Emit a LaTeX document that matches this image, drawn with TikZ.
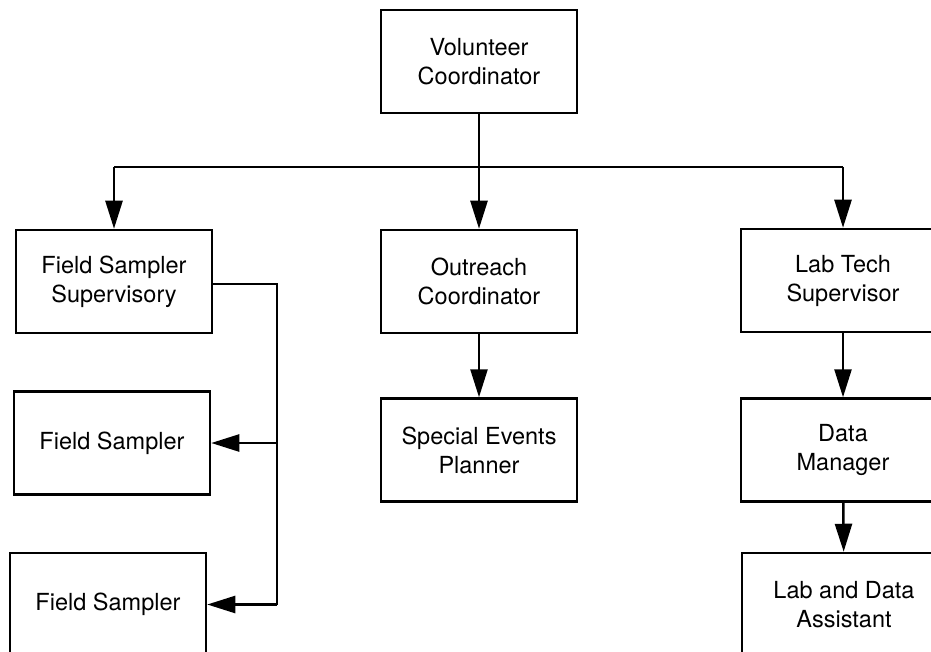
\documentclass[tikz,border=0pt]{standalone}
\usepackage{fontspec}
\setmainfont{TeX Gyre Heros}
\usetikzlibrary{arrows.meta}

\begin{document}
\begin{tikzpicture}[x=1pt,y=-1pt,
    box/.style={draw, line width=2.5pt, minimum width=196pt, minimum height=103pt,
                align=center, font=\fontsize{23.5}{29}\selectfont},
    link/.style={line width=2.5pt},
    arrow/.style={line width=2.5pt, -{Triangle[length=28pt,width=17pt]}}]

\useasboundingbox (0,0) rectangle (931,652);
\clip (0,0) rectangle (931,652);

\node [box] (vc)  at (479,61.5)  {Volunteer\\Coordinator};

\node [box] (fss) at (114,281.5) {Field Sampler\\Supervisory};
\node [box] (oc)  at (479,281.5) {Outreach\\Coordinator};
\node [box, minimum width=204pt] (lts) at (843,280.5) {Lab Tech\\Supervisor};

\node [box] (fs1) at (112,443)   {Field Sampler};
\node [box] (fs2) at (108,604.5) {Field Sampler};
\node [box] (sep) at (479,450)   {Special Events\\Planner};
\node [box, minimum width=204pt] (dm)  at (843,450)   {Data\\Manager};
\node [box, minimum width=204pt] (lda) at (844,604.5) {Lab and Data\\Assistant};

\coordinate (busL) at (114,167);
\coordinate (busR) at (843,167);
\coordinate (riser) at (277,284);

\draw [link] (vc) -- (vc |- busL);
\draw [link] (busL) -- (busR);

\foreach \i in {fss,oc,lts}
    \draw [arrow] (\i |- busL) -- (\i);

\draw [arrow] (oc) -- (sep);
\draw [arrow] (lts) -- (dm);
\draw [arrow] (dm) -- (lda);

\draw [link, line width=2pt] (fss.east |- riser) -- (riser) -- (riser |- fs2);
\foreach \i in {fs1,fs2}
    \draw [arrow] (riser |- \i) -- (\i);

\end{tikzpicture}
\end{document}
